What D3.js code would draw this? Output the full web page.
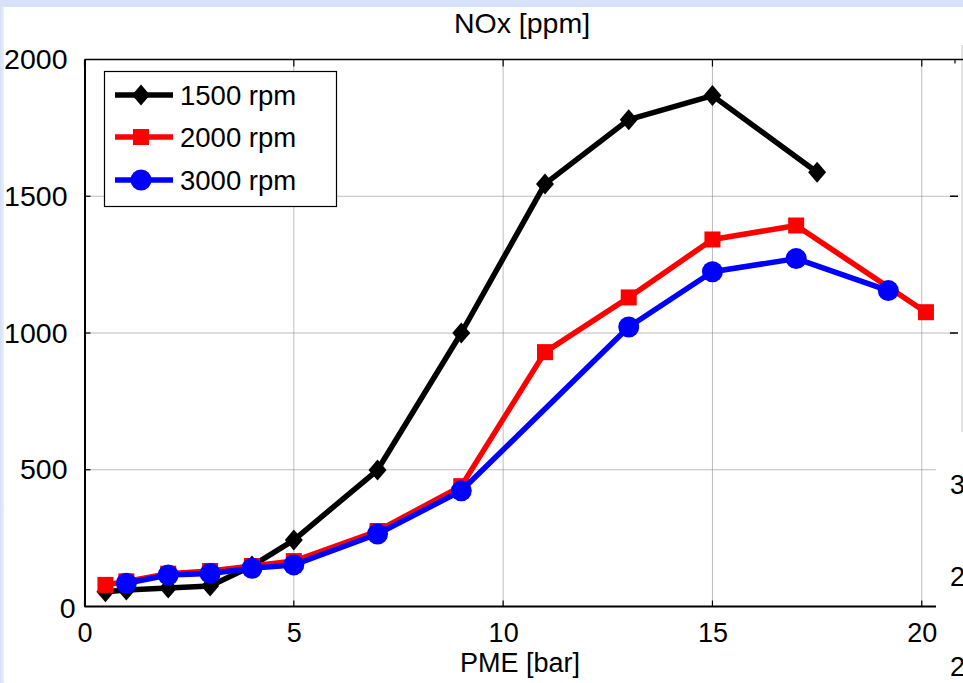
<!DOCTYPE html>
<html>
<head>
<meta charset="utf-8">
<script src="https://cdn.jsdelivr.net/npm/d3@7"></script>
<style>
html,body{margin:0;padding:0;background:#fff;}
svg{display:block;}
text{font-family:"Liberation Sans",Arial,Helvetica,sans-serif;fill:#000;}
</style>
</head>
<body>
<svg id="chart" width="963" height="683"></svg>
<script>
// ---- data ----
const seriesNames = ["1500 rpm", "2000 rpm", "3000 rpm"];
const pme1500 = [0.5, 1, 2, 3, 4, 5, 7, 9, 11, 13, 15, 17.5];
const nox1500 = [54, 60, 68, 75, 148, 243, 499, 1000, 1545, 1780, 1868, 1588];
const pme2000 = [0.5, 1, 2, 3, 4, 5, 7, 9, 11, 13, 15, 17, 20.1];
const nox2000 = [79, 92, 120, 130, 148, 166, 276, 440, 930, 1130, 1342, 1393, 1076];
const pme3000 = [1, 2, 3, 4, 5, 7, 9, 13, 15, 17, 19.2];
const nox3000 = [85, 115, 121, 140, 152, 265, 423, 1022, 1224, 1272, 1155];
const xTicks = [0, 5, 10, 15, 20];
const yTicks = [0, 500, 1000, 1500, 2000];
const titleText = "NOx [ppm]";
const xLabelText = "PME [bar]";
const clippedRightLabels = ["3", "2", "2"];

// ---- layout ----
const svg = d3.select("#chart");
const W = 963, H = 683;
const x = d3.scaleLinear().domain([0, 20.34]).range([84.5, 936]);
const y = d3.scaleLinear().domain([0, 2000]).range([606.5, 59.5]);
const colors = ["#000000", "#ff0000", "#0000ff"];
const shapes = ["diamond", "square", "circle"];

// background: light-blue frame strips
svg.append("rect").attr("x", 0).attr("y", 0).attr("width", W).attr("height", H).attr("fill", "#ffffff");
const grad = svg.append("defs").append("linearGradient").attr("id", "lg").attr("x1", 0).attr("x2", 1);
grad.append("stop").attr("offset", 0).attr("stop-color", "#d4e0f4");
grad.append("stop").attr("offset", 1).attr("stop-color", "#e8f0fb");
svg.append("rect").attr("x", 0).attr("y", 0).attr("width", 4).attr("height", H).attr("fill", "url(#lg)");
svg.append("rect").attr("x", 0).attr("y", 0).attr("width", W).attr("height", 7).attr("fill", "#d6e2f7");

// grid
const grid = svg.append("g");
xTicks.filter(d => d > 0).forEach(d => {
  grid.append("line").attr("x1", x(d)).attr("x2", x(d)).attr("y1", y(2000)).attr("y2", y(0))
    .attr("stroke", "#7a7a7a").attr("stroke-width", 1).attr("stroke-dasharray", "1,1");
});
yTicks.filter(d => d > 0 && d < 2000).forEach(d => {
  const x2 = d >= 1000 ? 955 : x.range()[1];
  grid.append("line").attr("x1", x(0)).attr("x2", x2).attr("y1", y(d)).attr("y2", y(d))
    .attr("stroke", "#7a7a7a").attr("stroke-width", 1).attr("stroke-dasharray", "1,1");
  if (d >= 1000) {
    grid.append("line").attr("x1", 950).attr("x2", 958).attr("y1", y(d)).attr("y2", y(d))
      .attr("stroke", "#000").attr("stroke-width", 1.5);
  }
});
// faint right line of the neighbouring panel
svg.append("line").attr("x1", 962).attr("x2", 962).attr("y1", 45).attr("y2", 432)
  .attr("stroke", "#c8c8c8").attr("stroke-width", 1);

// axes
const xAxisG = svg.append("g").attr("transform", `translate(0,${y(0)})`)
  .call(d3.axisBottom(x).tickValues(xTicks).tickSize(0).tickPadding(16).tickFormat(d3.format("d")));
xAxisG.select(".domain").attr("stroke", "#000").attr("stroke-width", 2).attr("d", `M${x(0)},0H${x.range()[1]}`);
xAxisG.selectAll("text").attr("font-size", 27).attr("font-family", "Liberation Sans, Arial, sans-serif").attr("fill", "#000");
// inward ticks
xTicks.forEach(d => {
  svg.append("line").attr("x1", x(d)).attr("x2", x(d)).attr("y1", y(0)).attr("y2", y(0) - 6).attr("stroke", "#000").attr("stroke-width", 1.2);
  svg.append("line").attr("x1", x(d)).attr("x2", x(d)).attr("y1", y(2000)).attr("y2", y(2000) + 7).attr("stroke", "#000").attr("stroke-width", 1.2);
});
svg.append("line").attr("x1", 955).attr("x2", 955).attr("y1", y(2000)).attr("y2", y(2000) + 4).attr("stroke", "#000").attr("stroke-width", 1.2);

const yAxisG = svg.append("g").attr("transform", `translate(${x(0)},0)`)
  .call(d3.axisLeft(y).tickValues(yTicks).tickSize(0).tickPadding(17).tickFormat(d3.format("d")));
yAxisG.select(".domain").attr("stroke", "#000").attr("stroke-width", 2);
yAxisG.selectAll("text").attr("font-size", 28.5).attr("font-family", "Liberation Sans, Arial, sans-serif").attr("fill", "#000");
yAxisG.selectAll(".tick").filter(d => d === 0).select("text").attr("x", -9).attr("dy", "0.38em");
yTicks.filter(d => d > 0 && d < 2000).forEach(d => {
  svg.append("line").attr("x1", x(0)).attr("x2", x(0) + 6).attr("y1", y(d)).attr("y2", y(d)).attr("stroke", "#000").attr("stroke-width", 1.2);
});
// top border
svg.append("line").attr("x1", x(0)).attr("x2", W).attr("y1", y(2000)).attr("y2", y(2000)).attr("stroke", "#000").attr("stroke-width", 1.5);

// clipped labels of neighbouring panel
clippedRightLabels.forEach((t, i) => {
  svg.append("text").attr("x", 950).attr("y", [494, 586, 676][i]).attr("font-size", 27).text(t);
});

// title and label
svg.append("text").attr("x", 522).attr("y", 33).attr("text-anchor", "middle").attr("font-size", 28.5).text(titleText);
svg.append("text").attr("x", 520).attr("y", 672).attr("text-anchor", "middle").attr("font-size", 27).text(xLabelText);

// markers
function marker(g, shape, cx, cy, color) {
  if (shape === "diamond") {
    const hw = 9, hh = 10.5;
    g.append("path").attr("d", `M${cx},${cy - hh}L${cx + hw},${cy}L${cx},${cy + hh}L${cx - hw},${cy}Z`).attr("fill", color);
  } else if (shape === "square") {
    g.append("rect").attr("x", cx - 8).attr("y", cy - 8).attr("width", 16).attr("height", 16).attr("fill", color);
  } else {
    g.append("circle").attr("cx", cx).attr("cy", cy).attr("r", 10.5).attr("fill", color);
  }
}

const allSeries = [
  { xs: pme1500, ys: nox1500 },
  { xs: pme2000, ys: nox2000 },
  { xs: pme3000, ys: nox3000 }
];
const line = d3.line().x(d => x(d[0])).y(d => y(d[1]));
allSeries.forEach((s, i) => {
  const pts = s.xs.map((v, k) => [v, s.ys[k]]);
  const g = svg.append("g");
  g.append("path").attr("d", line(pts)).attr("fill", "none").attr("stroke", colors[i])
    .attr("stroke-width", 5.5).attr("stroke-linejoin", "round").attr("stroke-linecap", "butt");
  pts.forEach(p => marker(g, shapes[i], x(p[0]), y(p[1]), colors[i]));
});

// legend
const lg = svg.append("g");
lg.append("rect").attr("x", 104.5).attr("y", 71.5).attr("width", 232).attr("height", 135)
  .attr("fill", "#fff").attr("stroke", "#000").attr("stroke-width", 1.2);
const rowY = [95, 137, 180];
seriesNames.forEach((name, i) => {
  lg.append("line").attr("x1", 115).attr("x2", 173).attr("y1", rowY[i]).attr("y2", rowY[i])
    .attr("stroke", colors[i]).attr("stroke-width", 5.5);
  marker(lg, shapes[i], 141, rowY[i], colors[i]);
  lg.append("text").attr("x", 180).attr("y", rowY[i]).attr("dy", "0.36em").attr("font-size", 27.5).text(name);
});
</script>
</body>
</html>
